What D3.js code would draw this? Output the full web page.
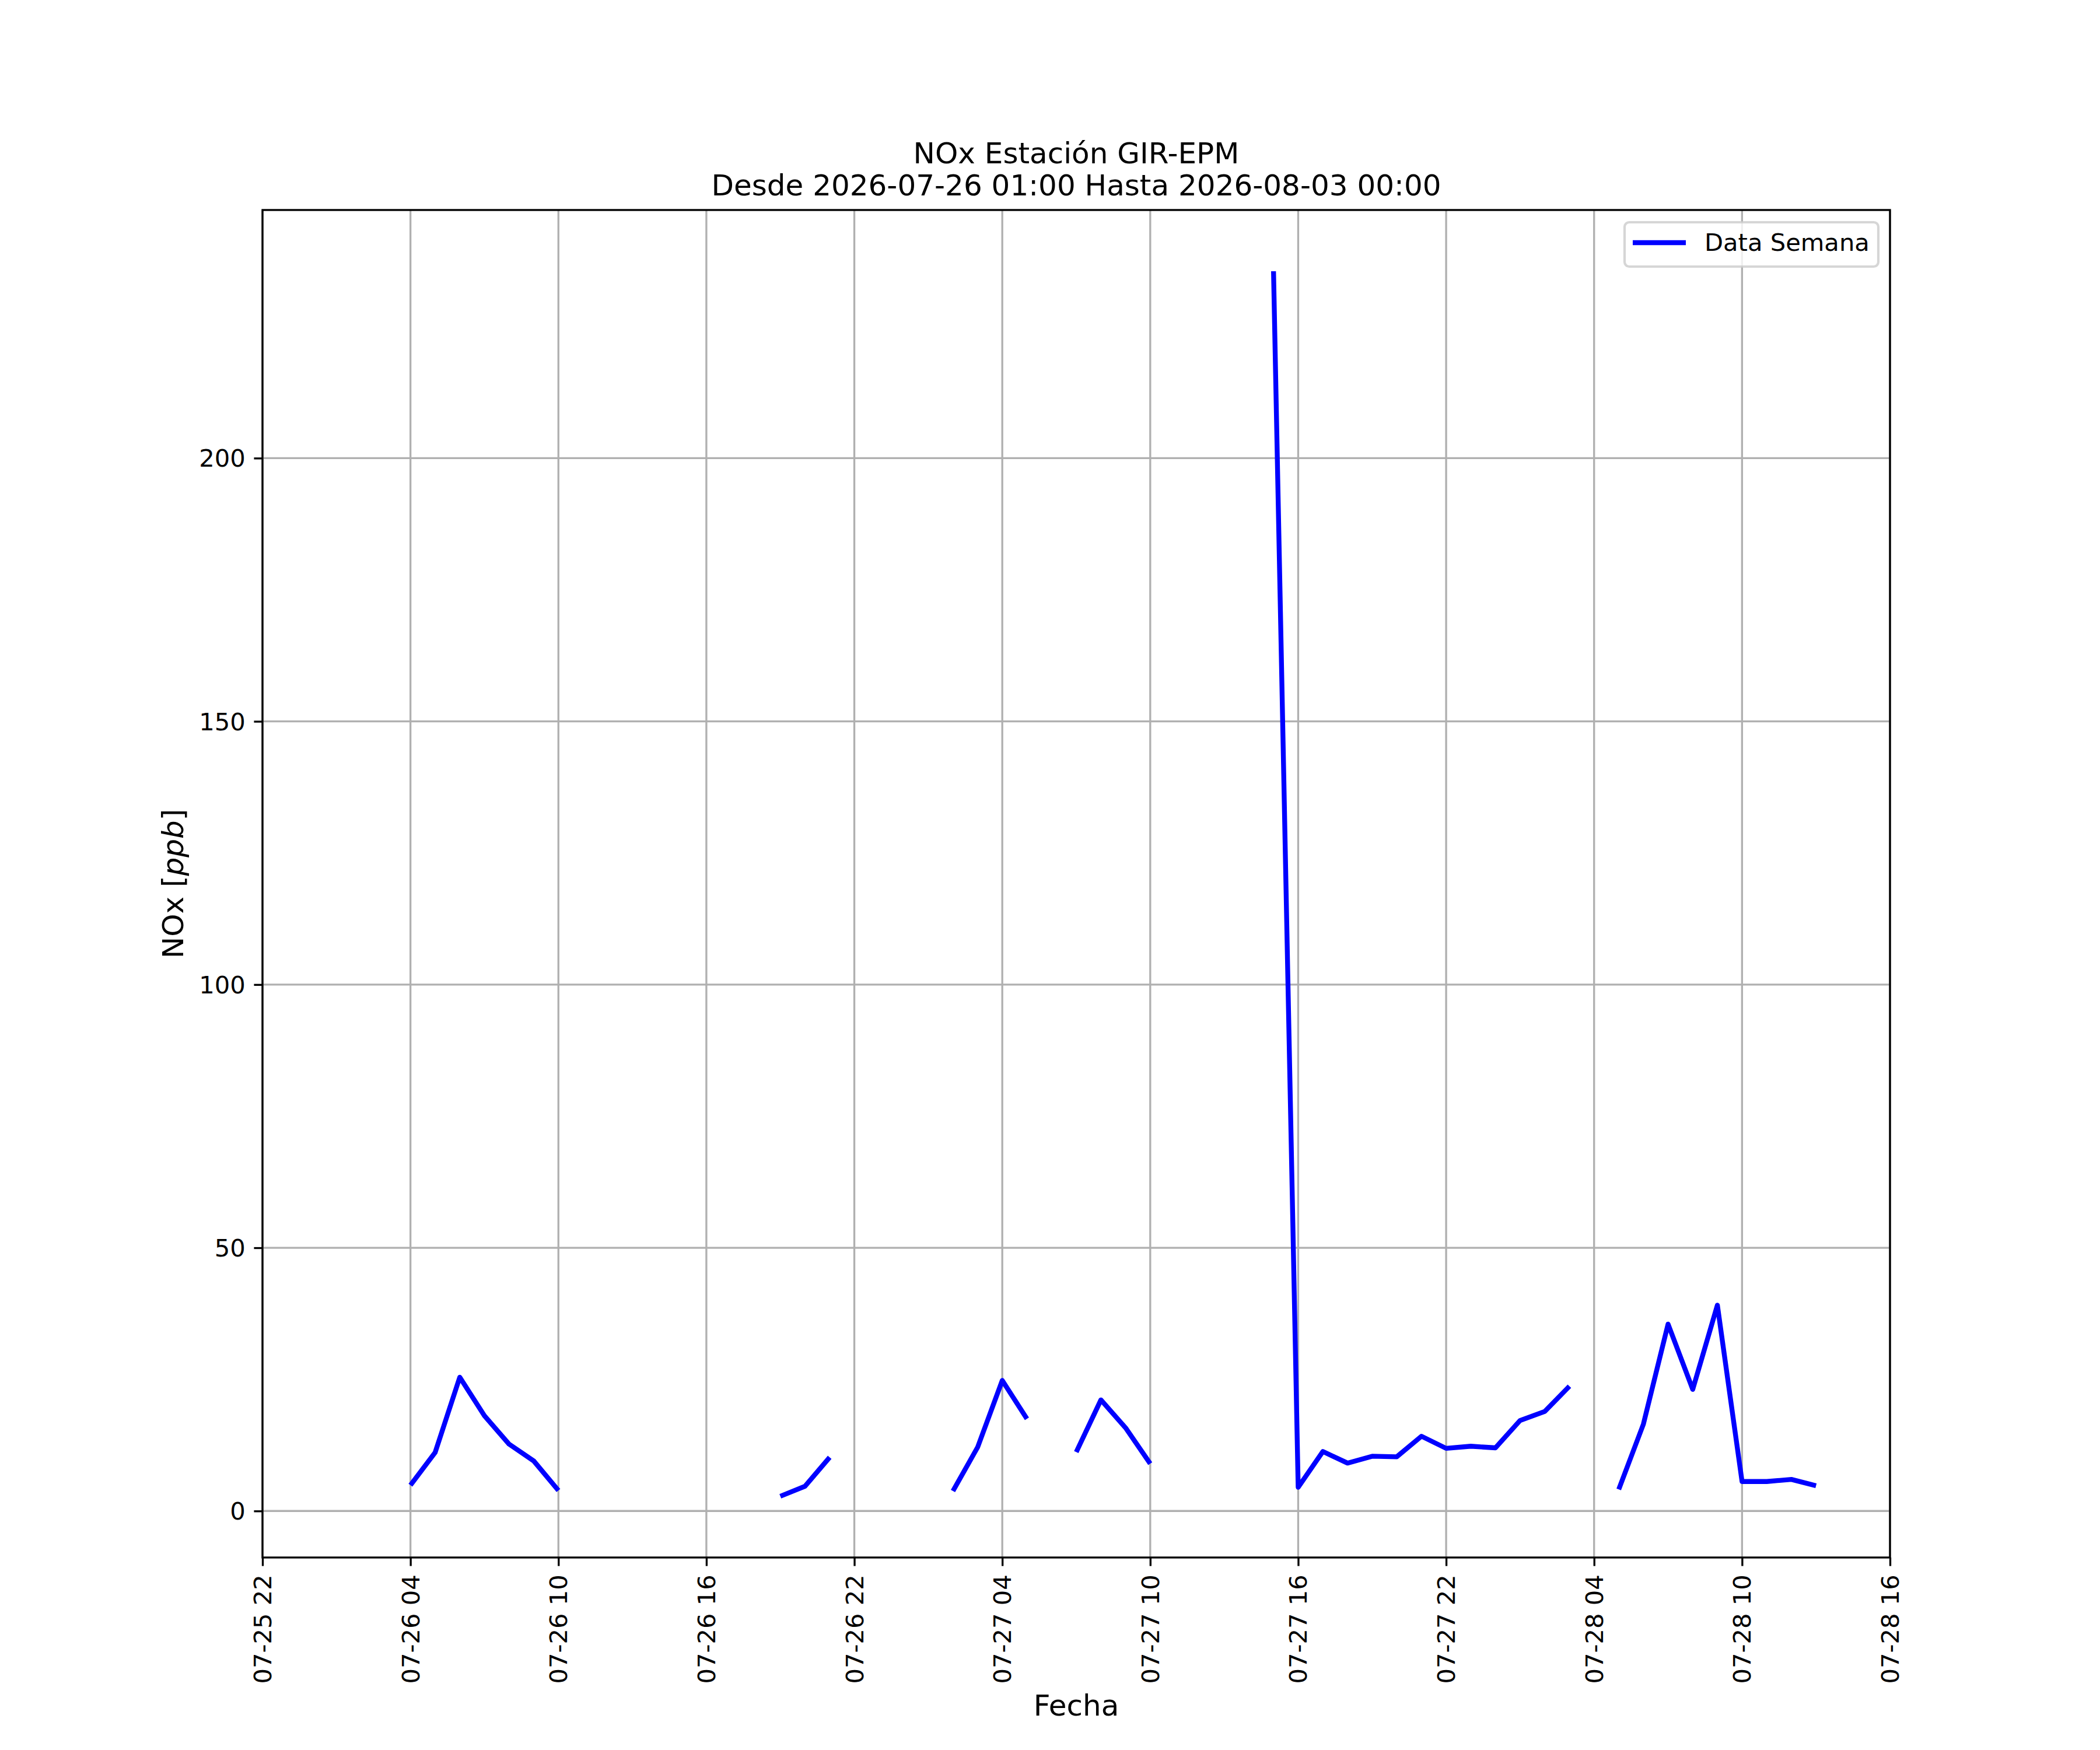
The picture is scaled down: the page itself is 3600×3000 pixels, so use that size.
<!DOCTYPE html>
<html>
<head>
<meta charset="utf-8">
<script src="https://cdn.jsdelivr.net/npm/d3@7"></script>
<style>
  html, body { margin: 0; padding: 0; background: #fff; }
  svg { display: block; font-family: "DejaVu Sans", sans-serif; }
</style>
</head>
<body>
<div id="chart"></div>
<script>
  // Hourly readings, null = no data (gap in the line).
  var hours = [
    "2026-07-26 04:00", "2026-07-26 05:00", "2026-07-26 06:00", "2026-07-26 07:00",
    "2026-07-26 08:00", "2026-07-26 09:00", "2026-07-26 10:00", "2026-07-26 11:00",
    "2026-07-26 12:00", "2026-07-26 13:00", "2026-07-26 14:00", "2026-07-26 15:00",
    "2026-07-26 16:00", "2026-07-26 17:00", "2026-07-26 18:00", "2026-07-26 19:00",
    "2026-07-26 20:00", "2026-07-26 21:00", "2026-07-26 22:00", "2026-07-26 23:00",
    "2026-07-27 00:00", "2026-07-27 01:00", "2026-07-27 02:00", "2026-07-27 03:00",
    "2026-07-27 04:00", "2026-07-27 05:00", "2026-07-27 06:00", "2026-07-27 07:00",
    "2026-07-27 08:00", "2026-07-27 09:00", "2026-07-27 10:00", "2026-07-27 11:00",
    "2026-07-27 12:00", "2026-07-27 13:00", "2026-07-27 14:00", "2026-07-27 15:00",
    "2026-07-27 16:00", "2026-07-27 17:00", "2026-07-27 18:00", "2026-07-27 19:00",
    "2026-07-27 20:00", "2026-07-27 21:00", "2026-07-27 22:00", "2026-07-27 23:00",
    "2026-07-28 00:00", "2026-07-28 01:00", "2026-07-28 02:00", "2026-07-28 03:00",
    "2026-07-28 04:00", "2026-07-28 05:00", "2026-07-28 06:00", "2026-07-28 07:00",
    "2026-07-28 08:00", "2026-07-28 09:00", "2026-07-28 10:00", "2026-07-28 11:00",
    "2026-07-28 12:00", "2026-07-28 13:00"
  ];
  var nox = [
    4.9, 11.1, 25.4, 18.1, 12.7, 9.5, 3.9, null,
    null, null, null, null, null, null, null, 2.8,
    4.7, 10.2, null, null, null, null, 3.8, 12.1,
    24.8, 17.5, null, 11.2, 21.1, 15.8, 9.0, null,
    null, null, null, 235.5, 4.5, 11.3, 9.1, 10.4,
    10.3, 14.2, 11.9, 12.3, 12.0, 17.2, 18.9, 23.7,
    null, 4.1, 16.5, 35.5, 23.1, 39.1, 5.6, 5.6,
    6.0, 4.8
  ];
  var yTicks = [0, 50, 100, 150, 200];
  var xDomain = ["2026-07-25 22:00", "2026-07-28 16:00"];
  var titleLines = ["NOx Estación GIR-EPM", "Desde 2026-07-26 01:00 Hasta 2026-08-03 00:00"];
  var seriesName = "Data Semana";

(function () {
  "use strict";

  var W = 3600, H = 3000;
  var pt = 300 / 72;                // 300 dpi figure
  var mLeft = 450, mRight = 3240, mTop = 360, mBottom = 2670;
  var parse = d3.timeParse("%Y-%m-%d %H:%M");
  var fmt = d3.timeFormat("%m-%d %H");

  var data = hours.map(function (h, i) { return { t: parse(h), v: nox[i] }; });

  var x = d3.scaleTime().domain(xDomain.map(parse)).range([mLeft, mRight]);
  var ext = d3.extent(nox.filter(function (v) { return v != null; }));
  var pad = (ext[1] - ext[0]) * 0.05;
  var y = d3.scaleLinear().domain([ext[0] - pad, ext[1] + pad]).range([mBottom, mTop]);

  var svg = d3.select("#chart").append("svg")
    .attr("width", W).attr("height", H);
  svg.append("rect").attr("width", W).attr("height", H).attr("fill", "#fff");

  // Grid (6-hour steps starting at the left limit).
  var xTicks = d3.timeHour.range(x.domain()[0], d3.timeMinute.offset(x.domain()[1], 1), 6);
  var grid = svg.append("g").attr("stroke", "#b0b0b0").attr("stroke-width", 0.8 * pt);
  grid.selectAll("line.gx").data(xTicks).enter().append("line")
    .attr("x1", function (d) { return x(d); }).attr("x2", function (d) { return x(d); })
    .attr("y1", mTop).attr("y2", mBottom);
  grid.selectAll("line.gy").data(yTicks).enter().append("line")
    .attr("y1", function (d) { return y(d); }).attr("y2", function (d) { return y(d); })
    .attr("x1", mLeft).attr("x2", mRight);

  // Series.
  var line = d3.line()
    .defined(function (d) { return d.v != null; })
    .x(function (d) { return x(d.t); })
    .y(function (d) { return y(d.v); });
  svg.append("path").datum(data)
    .attr("d", line)
    .attr("fill", "none")
    .attr("stroke", "#0000ff")
    .attr("stroke-width", 2 * pt)
    .attr("stroke-linecap", "butt")
    .attr("stroke-linejoin", "round");

  // Axes.
  var tickLen = 3.5 * pt, tickPad = 3.5 * pt, fs = 10 * pt;
  var xAxis = svg.append("g").attr("transform", "translate(0," + mBottom + ")")
    .call(d3.axisBottom(x).tickValues(xTicks).tickFormat(fmt).tickSize(tickLen).tickPadding(tickPad));
  var yAxis = svg.append("g").attr("transform", "translate(" + mLeft + ",0)")
    .call(d3.axisLeft(y).tickValues(yTicks).tickSize(tickLen).tickPadding(tickPad));
  [xAxis, yAxis].forEach(function (a) {
    a.select(".domain").remove();
    a.selectAll(".tick line").attr("stroke", "#000").attr("stroke-width", 0.8 * pt);
    a.selectAll(".tick text").attr("fill", "#000")
      .style("font-family", "'DejaVu Sans', sans-serif").style("font-size", fs + "px");
  });
  xAxis.selectAll(".tick text")
    .attr("text-anchor", "end")
    .attr("dy", null)
    .attr("dominant-baseline", "central")
    .attr("transform", "translate(0," + (tickLen + tickPad) + ") rotate(-90)")
    .attr("x", 0).attr("y", 0);
  yAxis.selectAll(".tick text").attr("dy", null).attr("dominant-baseline", "central");

  // Frame.
  svg.append("rect")
    .attr("x", mLeft).attr("y", mTop)
    .attr("width", mRight - mLeft).attr("height", mBottom - mTop)
    .attr("fill", "none").attr("stroke", "#000").attr("stroke-width", 0.8 * pt);

  // Title.
  svg.append("text").attr("x", (mLeft + mRight) / 2).attr("y", 280)
    .attr("text-anchor", "middle").attr("font-size", 12 * pt).text(titleLines[0]);
  svg.append("text").attr("x", (mLeft + mRight) / 2).attr("y", 335)
    .attr("text-anchor", "middle").attr("font-size", 12 * pt).text(titleLines[1]);

  // Axis labels.
  svg.append("text").attr("x", (mLeft + mRight) / 2).attr("y", 2941)
    .attr("text-anchor", "middle").attr("font-size", 12 * pt).text("Fecha");
  var yl = svg.append("text")
    .attr("transform", "translate(314," + ((mTop + mBottom) / 2) + ") rotate(-90)")
    .attr("text-anchor", "middle").attr("font-size", 12 * pt);
  yl.append("tspan").text("NOx [");
  yl.append("tspan").attr("font-style", "italic").text("ppb");
  yl.append("tspan").text("]");

  // Legend.
  var lg = svg.append("g");
  lg.append("rect")
    .attr("x", 2785).attr("y", 381).attr("width", 435).attr("height", 76)
    .attr("rx", 8).attr("ry", 8)
    .attr("fill", "#fff").attr("fill-opacity", 0.8)
    .attr("stroke", "#cccccc").attr("stroke-opacity", 0.8).attr("stroke-width", 1 * pt);
  lg.append("line")
    .attr("x1", 2799).attr("x2", 2890).attr("y1", 416).attr("y2", 416)
    .attr("stroke", "#0000ff").attr("stroke-width", 2 * pt);
  lg.append("text").attr("x", 2922).attr("y", 430)
    .attr("font-size", fs).text(seriesName);
})();
</script>
</body>
</html>
